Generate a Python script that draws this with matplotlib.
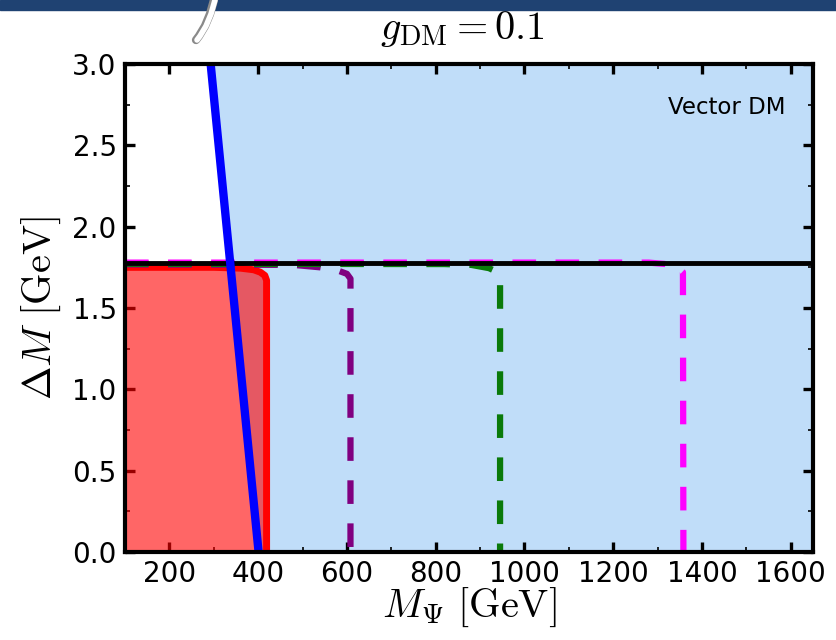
import numpy as np
import matplotlib
matplotlib.use('Agg')
import matplotlib.pyplot as plt
from matplotlib.patches import Rectangle
from matplotlib.lines import Line2D

# ---- data ----
x_lim = (100, 1650)
y_lim = (0.0, 3.0)
m_tau = 1.777

# blue bound (straight line across the panel)
blue_m = [293, 401]
blue_dm = [3.0, 0.0]

# red excluded region boundary
red_m = [100, 300, 360, 390, 405, 415, 419, 419]
red_dm = [1.75, 1.75, 1.745, 1.735, 1.72, 1.70, 1.67, 0.0]

# dashed curves
purple_m = [100, 480, 540, 580, 600, 608, 608]
purple_dm = [1.768, 1.765, 1.75, 1.73, 1.71, 1.68, 0.0]
green_m = [100, 820, 880, 920, 940, 945, 945]
green_dm = [1.772, 1.77, 1.765, 1.745, 1.72, 1.69, 0.0]
magenta_m = [100, 1280, 1320, 1345, 1357, 1358]
magenta_dm = [1.779, 1.779, 1.77, 1.75, 1.72, 0.0]

x_major = np.arange(200, 1601, 200)
x_minor = np.arange(100, 1651, 100)
y_major = np.arange(0, 3.01, 0.5)
y_minor = np.arange(0, 3.01, 0.25)

plt.rcParams['mathtext.fontset'] = 'cm'
plt.rcParams['font.family'] = ['DejaVu Sans']
plt.rcParams['lines.scale_dashes'] = False

fig = plt.figure(figsize=(8.36, 6.40), dpi=100)
ax = fig.add_axes([0.1495, 0.1375, 0.823, 0.7625])

# light blue allowed region, right of the blue line
ax.fill([blue_m[0], x_lim[1], x_lim[1], blue_m[1]],
        [blue_dm[0], y_lim[1], y_lim[0], blue_dm[1]],
        color='#c0ddf9', lw=0, zorder=1)

# red region
ax.fill(red_m + [100], red_dm + [0.0], color='red', alpha=0.6, lw=0, zorder=2)
ax.plot(red_m, red_dm, color='red', lw=5, zorder=3, solid_joinstyle='round')

# dashed lines
for mm, dd, c in [(purple_m, purple_dm, '#800080'),
                  (green_m, green_dm, '#0a7a0a'),
                  (magenta_m, magenta_dm, '#ff00ff')]:
    ax.plot(mm, dd, color=c, lw=4.5, dashes=(17, 14), zorder=4)

ax.axhline(m_tau, color='black', lw=3.5, zorder=5)

# blue line
ax.plot(blue_m, blue_dm, color='blue', lw=6, zorder=6, solid_capstyle='butt')

ax.text(0.96, 0.91, 'Vector DM', transform=ax.transAxes, ha='right',
        va='center', fontsize=16.5, zorder=7)

ax.set_xlim(*x_lim)
ax.set_ylim(*y_lim)
ax.set_xticks(x_major)
ax.set_xticks(x_minor, minor=True)
ax.set_yticks(y_major)
ax.set_yticks(y_minor, minor=True)
ax.set_yticklabels(['%.1f' % v for v in y_major])
ax.tick_params(which='both', direction='in', top=True, right=True,
               labelsize=20, pad=6)
ax.tick_params(which='major', length=7, width=2.4)
ax.tick_params(which='minor', length=3.5, width=1.2)
for s in ax.spines.values():
    s.set_linewidth(3)
    s.set_zorder(10)

ax.set_xlabel(r'$M_{\Psi}\ [\mathrm{GeV}]$', fontsize=29, labelpad=-2)
ax.set_ylabel(r'$\Delta M\ [\mathrm{GeV}]$', fontsize=29, labelpad=7)
ax.set_title(r'$g_{\rm DM}=0.1$', fontsize=29, pad=18, x=0.49)

# slide header band and stroke at the very top
fig.patches.append(Rectangle((0, 1 - 10 / 640), 1, 10 / 640, transform=fig.transFigure,
                             color='#1f4272', zorder=0))
sx = np.array([214, 210, 205, 199, 196]) / 836
sy = 1 - np.array([0, 14, 26, 36, 40]) / 640
fig.lines.append(Line2D(sx, sy, transform=fig.transFigure, color='#8a8a8a',
                        lw=6, solid_capstyle='round'))
fig.lines.append(Line2D(sx + 1 / 836, sy, transform=fig.transFigure, color='white',
                        lw=4, solid_capstyle='round'))

fig.savefig('out.png', dpi=100)
